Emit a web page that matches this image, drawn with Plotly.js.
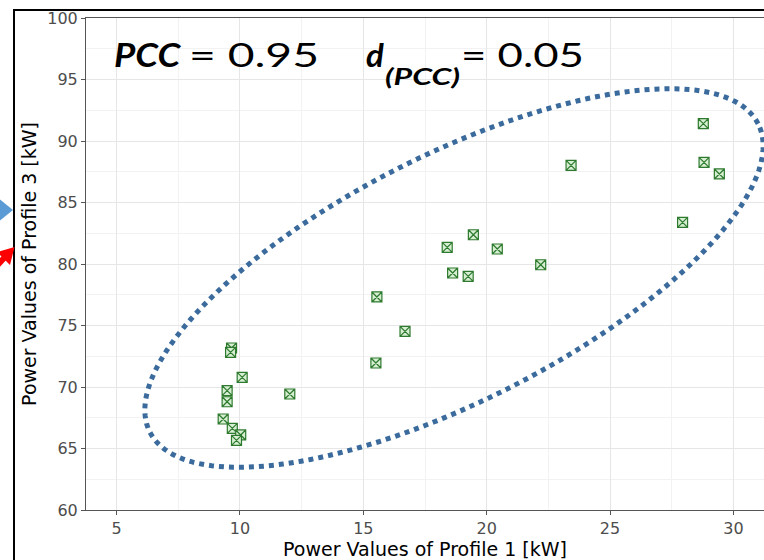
<!DOCTYPE html>
<html>
<head>
<meta charset="utf-8">
<script src="https://cdn.plot.ly/plotly-3.0.1.min.js"></script>
<style>html,body{margin:0;padding:0;background:#fff;}#chart{width:764px;height:560px;}</style>
</head>
<body>
<div id="chart"></div>
<script>
// Power values (kW)
const profile1 = [9.66, 9.62, 10.09, 9.48, 9.48, 12.02, 9.32, 9.69, 10.03, 9.86,
                  15.55, 16.69, 15.51, 18.40, 19.46, 20.43, 22.19, 18.62, 19.25,
                  23.42, 28.78, 28.81, 29.43, 27.94];
const profile3 = [73.17, 72.81, 70.78, 69.70, 68.80, 69.43, 67.40, 66.63, 66.10, 65.66,
                  77.32, 74.52, 71.95, 81.35, 82.38, 81.22, 79.94, 79.27, 78.99,
                  88.02, 91.41, 88.26, 87.32, 83.38];
const xTicks = [5, 10, 15, 20, 25, 30];
const yTicks = [60, 65, 70, 75, 80, 85, 90, 95, 100];

const W = 764, H = 560;
const M = {l: 86, r: 0, t: 18, b: 50};
const xRange = [3.76, 31.24];
const yRange = [60, 100];
const pw = W - M.l - M.r, ph = H - M.t - M.b;

// pixel -> data / paper helpers (for decorations only)
function px2x(px){ return xRange[0] + (px - M.l) / pw * (xRange[1] - xRange[0]); }
function py2y(py){ return yRange[0] + (H - M.b - py) / ph * (yRange[1] - yRange[0]); }
function px2p(px){ return (px - M.l) / pw; }
function py2p(py){ return (H - M.b - py) / ph; }

// ellipse decoration (pixel space): centre, semi-axes, tilt
const ell = {cx: 454, cy: 278, a: 341, b: 123, deg: 26.9};
let path = '';
const th = ell.deg * Math.PI / 180;
for (let i = 0; i <= 180; i++) {
  const t = i / 180 * 2 * Math.PI;
  const ex = ell.cx + ell.a * Math.cos(t) * Math.cos(th) - ell.b * Math.sin(t) * Math.sin(th);
  const ey = ell.cy - (ell.a * Math.cos(t) * Math.sin(th) + ell.b * Math.sin(t) * Math.cos(th));
  path += (i === 0 ? 'M' : 'L') + px2x(ex).toFixed(4) + ',' + py2y(ey).toFixed(4);
}
path += 'Z';

const trace = {
  x: profile1, y: profile3, type: 'scatter', mode: 'markers',
  marker: {symbol: 'square-x', size: 10, color: '#d6eed2',
           line: {color: '#2e7a2e', width: 1.2}},
  hoverinfo: 'x+y', showlegend: false
};

const axFont = {family: 'DejaVu Sans, sans-serif', size: 16, color: '#4d4d4d'};
const titleFont = {family: 'DejaVu Sans, sans-serif', size: 19, color: '#000'};
const txtFam = 'Lato, Open Sans, sans-serif';

function ann(text, px, py, size, target) {
  return {xref: 'paper', yref: 'paper', x: px2p(px), y: py2p(py), xanchor: 'left', yanchor: 'middle',
          text: text, showarrow: false, borderpad: 0, font: {family: txtFam, size: size, color: '#000'},
          _target: target};
}
const anns = [
  ann('<b><i>PCC</i></b>', 113, 54, 33, 68),
  ann('= 0.95', 188, 54, 33, 130),
  ann('<b><i>d</i></b>', 365, 54, 33, null),
  ann('<b><i>(PCC)</i></b>', 384, 76, 23, 75),
  ann('= 0.05', 460, 54, 33, 123)
];
const targets = anns.map(a => a._target);
anns.forEach(a => delete a._target);

const layout = {
  width: W, height: H, margin: M,
  paper_bgcolor: '#fff', plot_bgcolor: '#fff',
  xaxis: {range: xRange, tickvals: xTicks, ticktext: xTicks.map(String),
          showgrid: true, gridcolor: '#e6e6e6', gridwidth: 1,
          minor: {dtick: 2.5, tick0: 0, showgrid: true, gridcolor: '#f2f2f2', gridwidth: 1},
          ticks: 'outside', ticklen: 4, tickcolor: '#555', tickwidth: 1,
          showline: true, linecolor: '#555', linewidth: 1, mirror: true,
          zeroline: false, tickfont: axFont,
          title: {text: 'Power Values of Profile 1 [kW]', font: titleFont, standoff: 4}},
  yaxis: {range: yRange, tickvals: yTicks, ticktext: yTicks.map(String),
          showgrid: true, gridcolor: '#e6e6e6', gridwidth: 1,
          minor: {dtick: 2.5, tick0: 0, showgrid: true, gridcolor: '#f2f2f2', gridwidth: 1},
          ticks: 'outside', ticklen: 4, tickcolor: '#555', tickwidth: 1,
          showline: true, linecolor: '#555', linewidth: 1, mirror: true,
          zeroline: false, tickfont: axFont,
          title: {text: 'Power Values of Profile 3 [kW]', font: titleFont, standoff: 5}},
  shapes: [
    {type: 'path', xref: 'x', yref: 'y', path: path,
     line: {color: '#3b6b9c', width: 5, dash: '5px,5px'}},
    // outer black frame
    {type: 'line', xref: 'paper', yref: 'paper', x0: px2p(14), x1: px2p(14), y0: py2p(9), y1: py2p(570),
     line: {color: '#000', width: 2}},
    {type: 'line', xref: 'paper', yref: 'paper', x0: px2p(13), x1: px2p(780), y0: py2p(10), y1: py2p(10),
     line: {color: '#000', width: 2}},
    // blue pointer
    {type: 'path', xref: 'paper', yref: 'paper',
     path: 'M' + px2p(-2) + ',' + py2p(198) + 'L' + px2p(13) + ',' + py2p(210) + 'L' + px2p(-2) + ',' + py2p(222) + 'Z',
     fillcolor: '#5b9bd5', line: {width: 0}},
    // red arrow
    {type: 'path', xref: 'paper', yref: 'paper',
     path: 'M' + px2p(14.5) + ',' + py2p(247) + 'L' + px2p(10) + ',' + py2p(265) + 'L' + px2p(-3) + ',' + py2p(252) + 'Z',
     fillcolor: '#ff0000', line: {width: 0}},
    {type: 'line', xref: 'paper', yref: 'paper', x0: px2p(5), x1: px2p(-10), y0: py2p(257), y1: py2p(273),
     line: {color: '#ff0000', width: 6}}
  ],
  annotations: anns
};

Plotly.newPlot('chart', [trace], layout, {displayModeBar: false, staticPlot: true}).then(function () {
  // widen the statistic text like the reference rendering
  document.querySelectorAll('#chart .annotation').forEach(function (g, i) {
    const tgt = targets[i];
    if (!tgt) return;
    const t = g.querySelector('text.annotation-text');
    if (!t) return;
    const w = t.getBBox().width;
    if (w > 0) {
      t.style.transformBox = 'fill-box';
      t.style.transformOrigin = 'left center';
      t.style.transform = 'scaleX(' + (tgt / w).toFixed(4) + ')';
    }
  });
});
</script>
</body>
</html>
